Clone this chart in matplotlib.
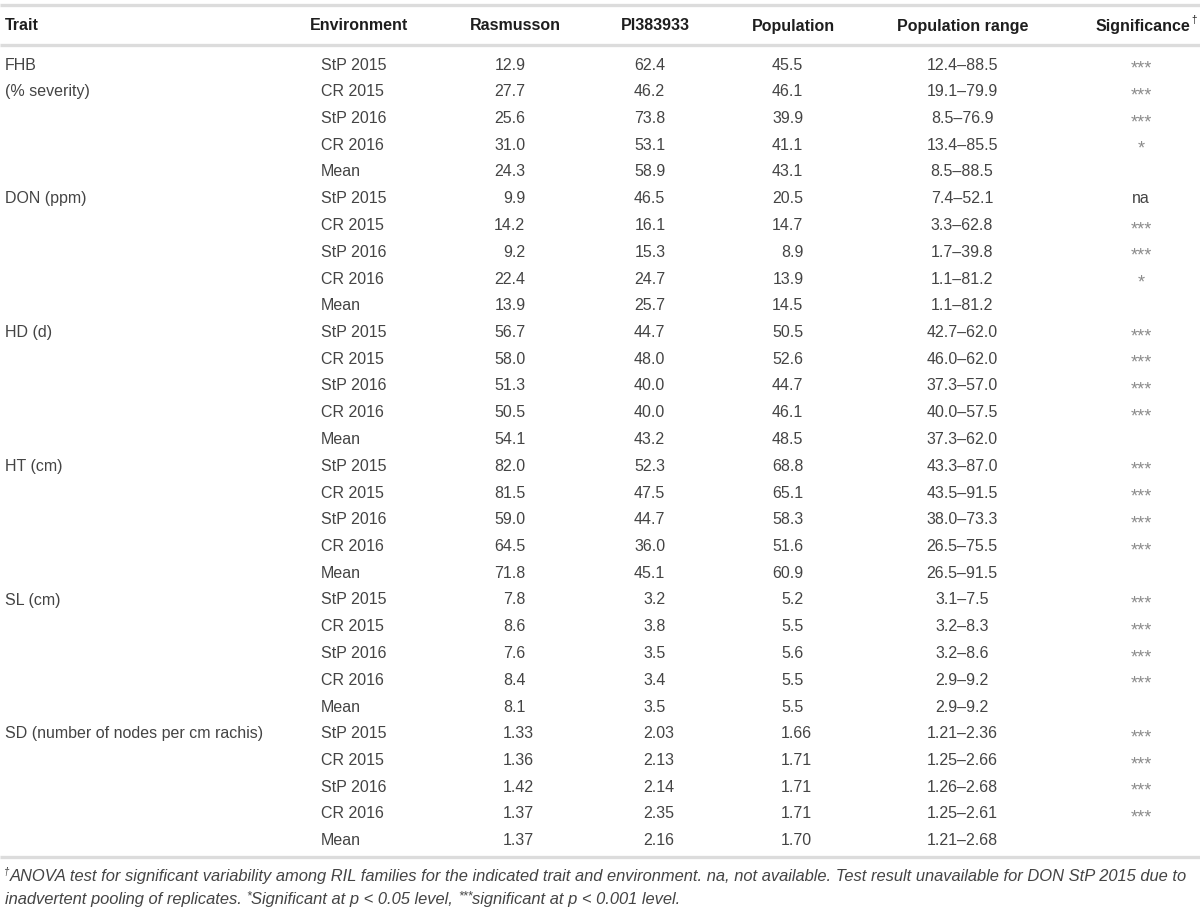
import matplotlib
matplotlib.use("Agg")
import matplotlib.pyplot as plt

# table content
headers = ["Trait", "Environment", "Rasmusson", "PI383933", "Population", "Population range", "Significance"]
trait_lines = [["FHB", "(% severity)"], ["DON (ppm)"], ["HD (d)"], ["HT (cm)"], ["SL (cm)"],
               ["SD (number of nodes per cm rachis)"]]
environments = ["StP 2015", "CR 2015", "StP 2016", "CR 2016", "Mean"]

rasmusson = ["12.9", "27.7", "25.6", "31.0", "24.3",
             "9.9", "14.2", "9.2", "22.4", "13.9",
             "56.7", "58.0", "51.3", "50.5", "54.1",
             "82.0", "81.5", "59.0", "64.5", "71.8",
             "7.8", "8.6", "7.6", "8.4", "8.1",
             "1.33", "1.36", "1.42", "1.37", "1.37"]
pi383933 = ["62.4", "46.2", "73.8", "53.1", "58.9",
            "46.5", "16.1", "15.3", "24.7", "25.7",
            "44.7", "48.0", "40.0", "40.0", "43.2",
            "52.3", "47.5", "44.7", "36.0", "45.1",
            "3.2", "3.8", "3.5", "3.4", "3.5",
            "2.03", "2.13", "2.14", "2.35", "2.16"]
population = ["45.5", "46.1", "39.9", "41.1", "43.1",
              "20.5", "14.7", "8.9", "13.9", "14.5",
              "50.5", "52.6", "44.7", "46.1", "48.5",
              "68.8", "65.1", "58.3", "51.6", "60.9",
              "5.2", "5.5", "5.6", "5.5", "5.5",
              "1.66", "1.71", "1.71", "1.71", "1.70"]
pop_range = ["12.4–88.5", "19.1–79.9", "8.5–76.9", "13.4–85.5", "8.5–88.5",
             "7.4–52.1", "3.3–62.8", "1.7–39.8", "1.1–81.2", "1.1–81.2",
             "42.7–62.0", "46.0–62.0", "37.3–57.0", "40.0–57.5", "37.3–62.0",
             "43.3–87.0", "43.5–91.5", "38.0–73.3", "26.5–75.5", "26.5–91.5",
             "3.1–7.5", "3.2–8.3", "3.2–8.6", "2.9–9.2", "2.9–9.2",
             "1.21–2.36", "1.25–2.66", "1.26–2.68", "1.25–2.61", "1.21–2.68"]
significance = ["***", "***", "***", "*", "",
                "na", "***", "***", "*", "",
                "***", "***", "***", "***", "",
                "***", "***", "***", "***", "",
                "***", "***", "***", "***", "",
                "***", "***", "***", "***", ""]

footnote1 = ("ANOVA test for significant variability among RIL families for the indicated trait and "
             "environment. na, not available. Test result unavailable for DON StP 2015 due to")
footnote2 = ["inadvertent pooling of replicates. ", ("*", True), "Significant at p < 0.05 level, ",
             ("***", True), "significant at p < 0.001 level."]

FONT = "Liberation Sans"
TXT = "#444444"
FS = 11.5
LINE = "#dcdcdc"
BASE = 5.5  # baseline offset below row centre, px

fig = plt.figure(figsize=(12, 9.15), dpi=100)
ax = fig.add_axes([0, 0, 1, 1])
ax.set_xlim(0, 1200)
ax.set_ylim(915, 0)
ax.axis("off")
renderer = fig.canvas.get_renderer()


def width(s, **k):
    t = ax.text(0, 0, s, **k)
    w = t.get_window_extent(renderer).width
    t.remove()
    return w


# rules
for y in (5, 45, 857):
    ax.plot([0, 1200], [y, y], color=LINE, lw=2.4, solid_capstyle="butt")

# header
hy = 25 + BASE
hkw = dict(fontsize=FS, fontweight="bold", color="#1e1e1e", family=FONT, va="baseline")
ax.text(5, hy, headers[0], ha="left", **hkw)
ax.text(310, hy, headers[1], ha="left", **hkw)
ax.text(515, hy, headers[2], ha="center", **hkw)
ax.text(655, hy, headers[3], ha="center", **hkw)
ax.text(793, hy, headers[4], ha="center", **hkw)
ax.text(963, hy, headers[5], ha="center", **hkw)
ax.text(1190, hy, headers[6], ha="right", **hkw)
ax.text(1191, hy - 7, "†", ha="left", fontsize=7, color="#1e1e1e", family=FONT, va="baseline")

row0, dy = 64, 26.75
kw = dict(fontsize=FS, color=TXT, family=FONT, va="baseline")

for t, lines in enumerate(trait_lines):
    for k, s in enumerate(lines):
        ax.text(5, row0 + (t * 5 + k) * dy + BASE, s, ha="left", **kw)


def dec_text(x_dec, y, s):
    whole = s.split(".")[0]
    ax.text(x_dec - width(whole, **kw), y, s, ha="left", **kw)


for i in range(len(rasmusson)):
    yc = row0 + i * dy
    y = yc + BASE
    ax.text(321, y, environments[i % 5], ha="left", **kw)
    dec_text(512, y, rasmusson[i])
    dec_text(652, y, pi383933[i])
    dec_text(790, y, population[i])
    ax.text(962, y, pop_range[i], ha="center", **kw)
    s = significance[i]
    if s == "na":
        ax.text(1141, y, s, ha="center", **kw)
    elif s:
        ax.text(1141, yc + 9.6, s, ha="center", fontsize=13, color="#8c8c8c", family=FONT, va="baseline")

# footnotes
fkw = dict(color=TXT, family=FONT, style="italic", va="baseline")
ax.text(4, 875, "†", ha="left", fontsize=7, **fkw)
probe = ax.text(10, 881, footnote1, ha="left", fontsize=10, **fkw)
w = probe.get_window_extent(renderer).width
ffs = 10 * (1194 - 10) / w
probe.set_fontsize(ffs)

x = 5
for piece in footnote2:
    if isinstance(piece, tuple):
        t = ax.text(x, 899, piece[0], ha="left", fontsize=ffs * 0.75, **fkw)
    else:
        t = ax.text(x, 904, piece, ha="left", fontsize=ffs, **fkw)
    x += t.get_window_extent(renderer).width

fig.savefig("out.png", dpi=100)
